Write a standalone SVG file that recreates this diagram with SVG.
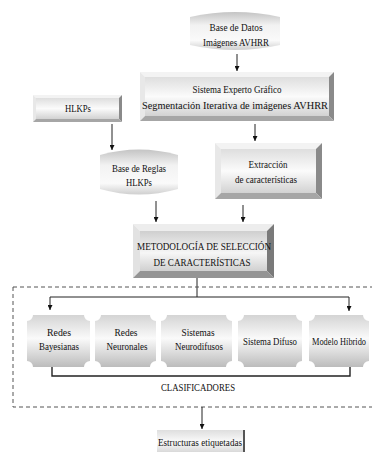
<svg xmlns="http://www.w3.org/2000/svg" width="372" height="452" viewBox="0 0 372 452">
<defs>
<linearGradient id="gFace" x1="0" y1="0" x2="0" y2="1">
<stop offset="0" stop-color="#dedede"/><stop offset="0.5" stop-color="#fbfbfb"/><stop offset="1" stop-color="#d2d2d2"/>
</linearGradient>
<linearGradient id="gMet" x1="0" y1="0" x2="0" y2="1">
<stop offset="0" stop-color="#cfcfcf"/><stop offset="0.55" stop-color="#f6f6f6"/><stop offset="1" stop-color="#d0d0d0"/>
</linearGradient>
<linearGradient id="gCyl" x1="0" y1="0" x2="0" y2="1">
<stop offset="0" stop-color="#c4c4c4"/><stop offset="0.35" stop-color="#f2f2f2"/><stop offset="0.75" stop-color="#fafafa"/><stop offset="1" stop-color="#cfcfcf"/>
</linearGradient>
<linearGradient id="gCls" x1="0" y1="0" x2="0" y2="1">
<stop offset="0" stop-color="#d4d4d4"/><stop offset="0.45" stop-color="#fafafa"/><stop offset="1" stop-color="#bcbcbc"/>
</linearGradient>
<marker id="ar" viewBox="0 0 8 8" refX="8" refY="4" markerWidth="5" markerHeight="5" orient="auto" markerUnits="userSpaceOnUse">
<path d="M0,0 L8,4 L0,8 z" fill="#111"/>
</marker>
</defs>
<style>
text{font-family:"Liberation Serif","Times New Roman","DejaVu Serif",serif;font-size:11px;fill:#111;text-anchor:middle}
.bt{fill:#f3f3f3}.bl{fill:#e8e8e8}.br{fill:#8a8a8a}.bb{fill:#a6a6a6}
.ln{stroke:#222;stroke-width:1;fill:none}
.arr{stroke:#222;stroke-width:1;fill:none;marker-end:url(#ar)}
.cls{fill:url(#gCls)}
</style>
<rect width="372" height="452" fill="#fff"/>

<g id="connectors">
<line class="arr" x1="237" y1="54" x2="237" y2="71"/>
<line class="arr" x1="255" y1="124" x2="255" y2="141"/>
<line class="arr" x1="112" y1="124" x2="112" y2="150"/>
<line class="arr" x1="156" y1="201" x2="156" y2="222"/>
<line class="arr" x1="243" y1="205" x2="243" y2="222"/>
<polyline class="ln" points="197,278 197,297"/>
<polyline class="ln" points="50,297 349,297"/>
<line class="arr" x1="50" y1="297" x2="50" y2="310"/>
<line class="arr" x1="349" y1="297" x2="349" y2="311"/>
<polyline points="52,367 52,376 350,376 350,367" fill="none" stroke="#222" stroke-width="1.4"/>
<rect x="13" y="287" width="372" height="120" fill="none" stroke="#555" stroke-width="1" stroke-dasharray="4 3"/>
<line class="arr" x1="202" y1="407" x2="202" y2="429"/>
</g>

<g id="base-datos">
<path d="M190,17 Q235,7 280,17 L280,45 Q235,55 190,45 Z" fill="url(#gCyl)"/>
<text x="236" y="31" textLength="53" lengthAdjust="spacingAndGlyphs">Base de Datos</text>
<text x="236" y="46" textLength="66" lengthAdjust="spacingAndGlyphs">Imágenes AVHRR</text>
</g>

<g id="sistema-experto">
<rect x="145" y="77" width="184" height="39" fill="url(#gFace)"/>
<polygon class="bt" points="140,72 334,72 329,77 145,77"/>
<polygon class="bl" points="140,72 145,77 145,116 140,121"/>
<polygon class="br" points="334,72 334,121 329,116 329,77"/>
<polygon class="bb" points="140,121 145,116 329,116 334,121"/>
<text x="237" y="93" textLength="89" lengthAdjust="spacingAndGlyphs">Sistema Experto Gráfico</text>
<text x="235" y="109" textLength="186" lengthAdjust="spacingAndGlyphs">Segmentación Iterativa de imágenes AVHRR</text>
</g>

<g id="hlkps">
<rect x="36" y="98" width="83" height="21" fill="url(#gFace)"/>
<polygon class="bt" points="33,95 122,95 119,98 36,98"/>
<polygon class="bl" points="33,95 36,98 36,119 33,122"/>
<polygon class="br" points="122,95 122,122 119,119 119,98"/>
<polygon class="bb" points="33,122 36,119 119,119 122,122"/>
<text x="78" y="112" textLength="26" lengthAdjust="spacingAndGlyphs">HLKPs</text>
</g>

<g id="base-reglas">
<path d="M100,155 Q139,144 178,155 L178,189 Q139,200 100,189 Z" fill="url(#gCyl)"/>
<text x="139" y="172" textLength="54" lengthAdjust="spacingAndGlyphs">Base de Reglas</text>
<text x="139" y="186" textLength="26" lengthAdjust="spacingAndGlyphs">HLKPs</text>
</g>

<g id="extraccion">
<rect x="221" y="149" width="95" height="44" fill="url(#gFace)"/>
<polygon class="bt" points="215,143 322,143 316,149 221,149"/>
<polygon class="bl" points="215,143 221,149 221,193 215,199"/>
<polygon class="br" points="322,143 322,199 316,193 316,149"/>
<polygon class="bb" points="215,199 221,193 316,193 322,199"/>
<text x="268" y="168" textLength="39" lengthAdjust="spacingAndGlyphs">Extracción</text>
<text x="266" y="183" textLength="62" lengthAdjust="spacingAndGlyphs">de características</text>
</g>

<g id="metodologia">
<rect x="140" y="231" width="127" height="40" fill="url(#gMet)"/>
<polygon points="133,224 274,224 267,231 140,231" fill="#ededed"/>
<polygon points="133,224 140,231 140,271 133,278" fill="#e2e2e2"/>
<polygon points="274,224 274,278 267,271 267,231" fill="#7a7a7a"/>
<polygon points="133,278 140,271 267,271 274,278" fill="#949494"/>
<text x="204" y="250" textLength="134" lengthAdjust="spacingAndGlyphs">METODOLOGÍA DE SELECCIÓN</text>
<text x="202" y="266" textLength="97" lengthAdjust="spacingAndGlyphs">DE CARACTERÍSTICAS</text>
</g>

<g id="redes-bayesianas">
<path class="cls" d="M33,315 H84 A6,6 0 0 0 90,321 V361 A6,6 0 0 0 84,367 H33 A6,6 0 0 0 27,361 V321 A6,6 0 0 0 33,315 Z"/>
<text x="59" y="336" textLength="24" lengthAdjust="spacingAndGlyphs">Redes</text>
<text x="59" y="350" textLength="40" lengthAdjust="spacingAndGlyphs">Bayesianas</text>
</g>
<g id="redes-neuronales">
<path class="cls" d="M101,315 H150 A6,6 0 0 0 156,321 V361 A6,6 0 0 0 150,367 H101 A6,6 0 0 0 95,361 V321 A6,6 0 0 0 101,315 Z"/>
<text x="126" y="336" textLength="23" lengthAdjust="spacingAndGlyphs">Redes</text>
<text x="127" y="350" textLength="41" lengthAdjust="spacingAndGlyphs">Neuronales</text>
</g>
<g id="sistemas-neurodifusos">
<path class="cls" d="M167,315 H226 A6,6 0 0 0 232,321 V361 A6,6 0 0 0 226,367 H167 A6,6 0 0 0 161,361 V321 A6,6 0 0 0 167,315 Z"/>
<text x="198" y="336" textLength="33" lengthAdjust="spacingAndGlyphs">Sistemas</text>
<text x="199" y="350" textLength="48" lengthAdjust="spacingAndGlyphs">Neurodifusos</text>
</g>
<g id="sistema-difuso">
<path class="cls" d="M244,315 H296 A6,6 0 0 0 302,321 V361 A6,6 0 0 0 296,367 H244 A6,6 0 0 0 238,361 V321 A6,6 0 0 0 244,315 Z"/>
<text x="270" y="345" textLength="54" lengthAdjust="spacingAndGlyphs">Sistema Difuso</text>
</g>
<g id="modelo-hibrido">
<path class="cls" d="M315,315 H363 A6,6 0 0 0 369,321 V361 A6,6 0 0 0 363,367 H315 A6,6 0 0 0 309,361 V321 A6,6 0 0 0 315,315 Z"/>
<text x="339" y="345" style="font-size:9.5px" textLength="54" lengthAdjust="spacingAndGlyphs">Modelo Híbrido</text>
</g>

<g id="clasificadores">
<text x="198" y="391" textLength="74" lengthAdjust="spacingAndGlyphs">CLASIFICADORES</text>
</g>

<g id="estructuras">
<rect x="157" y="430" width="88" height="24" fill="url(#gFace)"/>
<rect x="243" y="430" width="2" height="24" fill="#555"/>
<text x="200" y="446" textLength="84" lengthAdjust="spacingAndGlyphs">Estructuras etiquetadas</text>
</g>
</svg>
